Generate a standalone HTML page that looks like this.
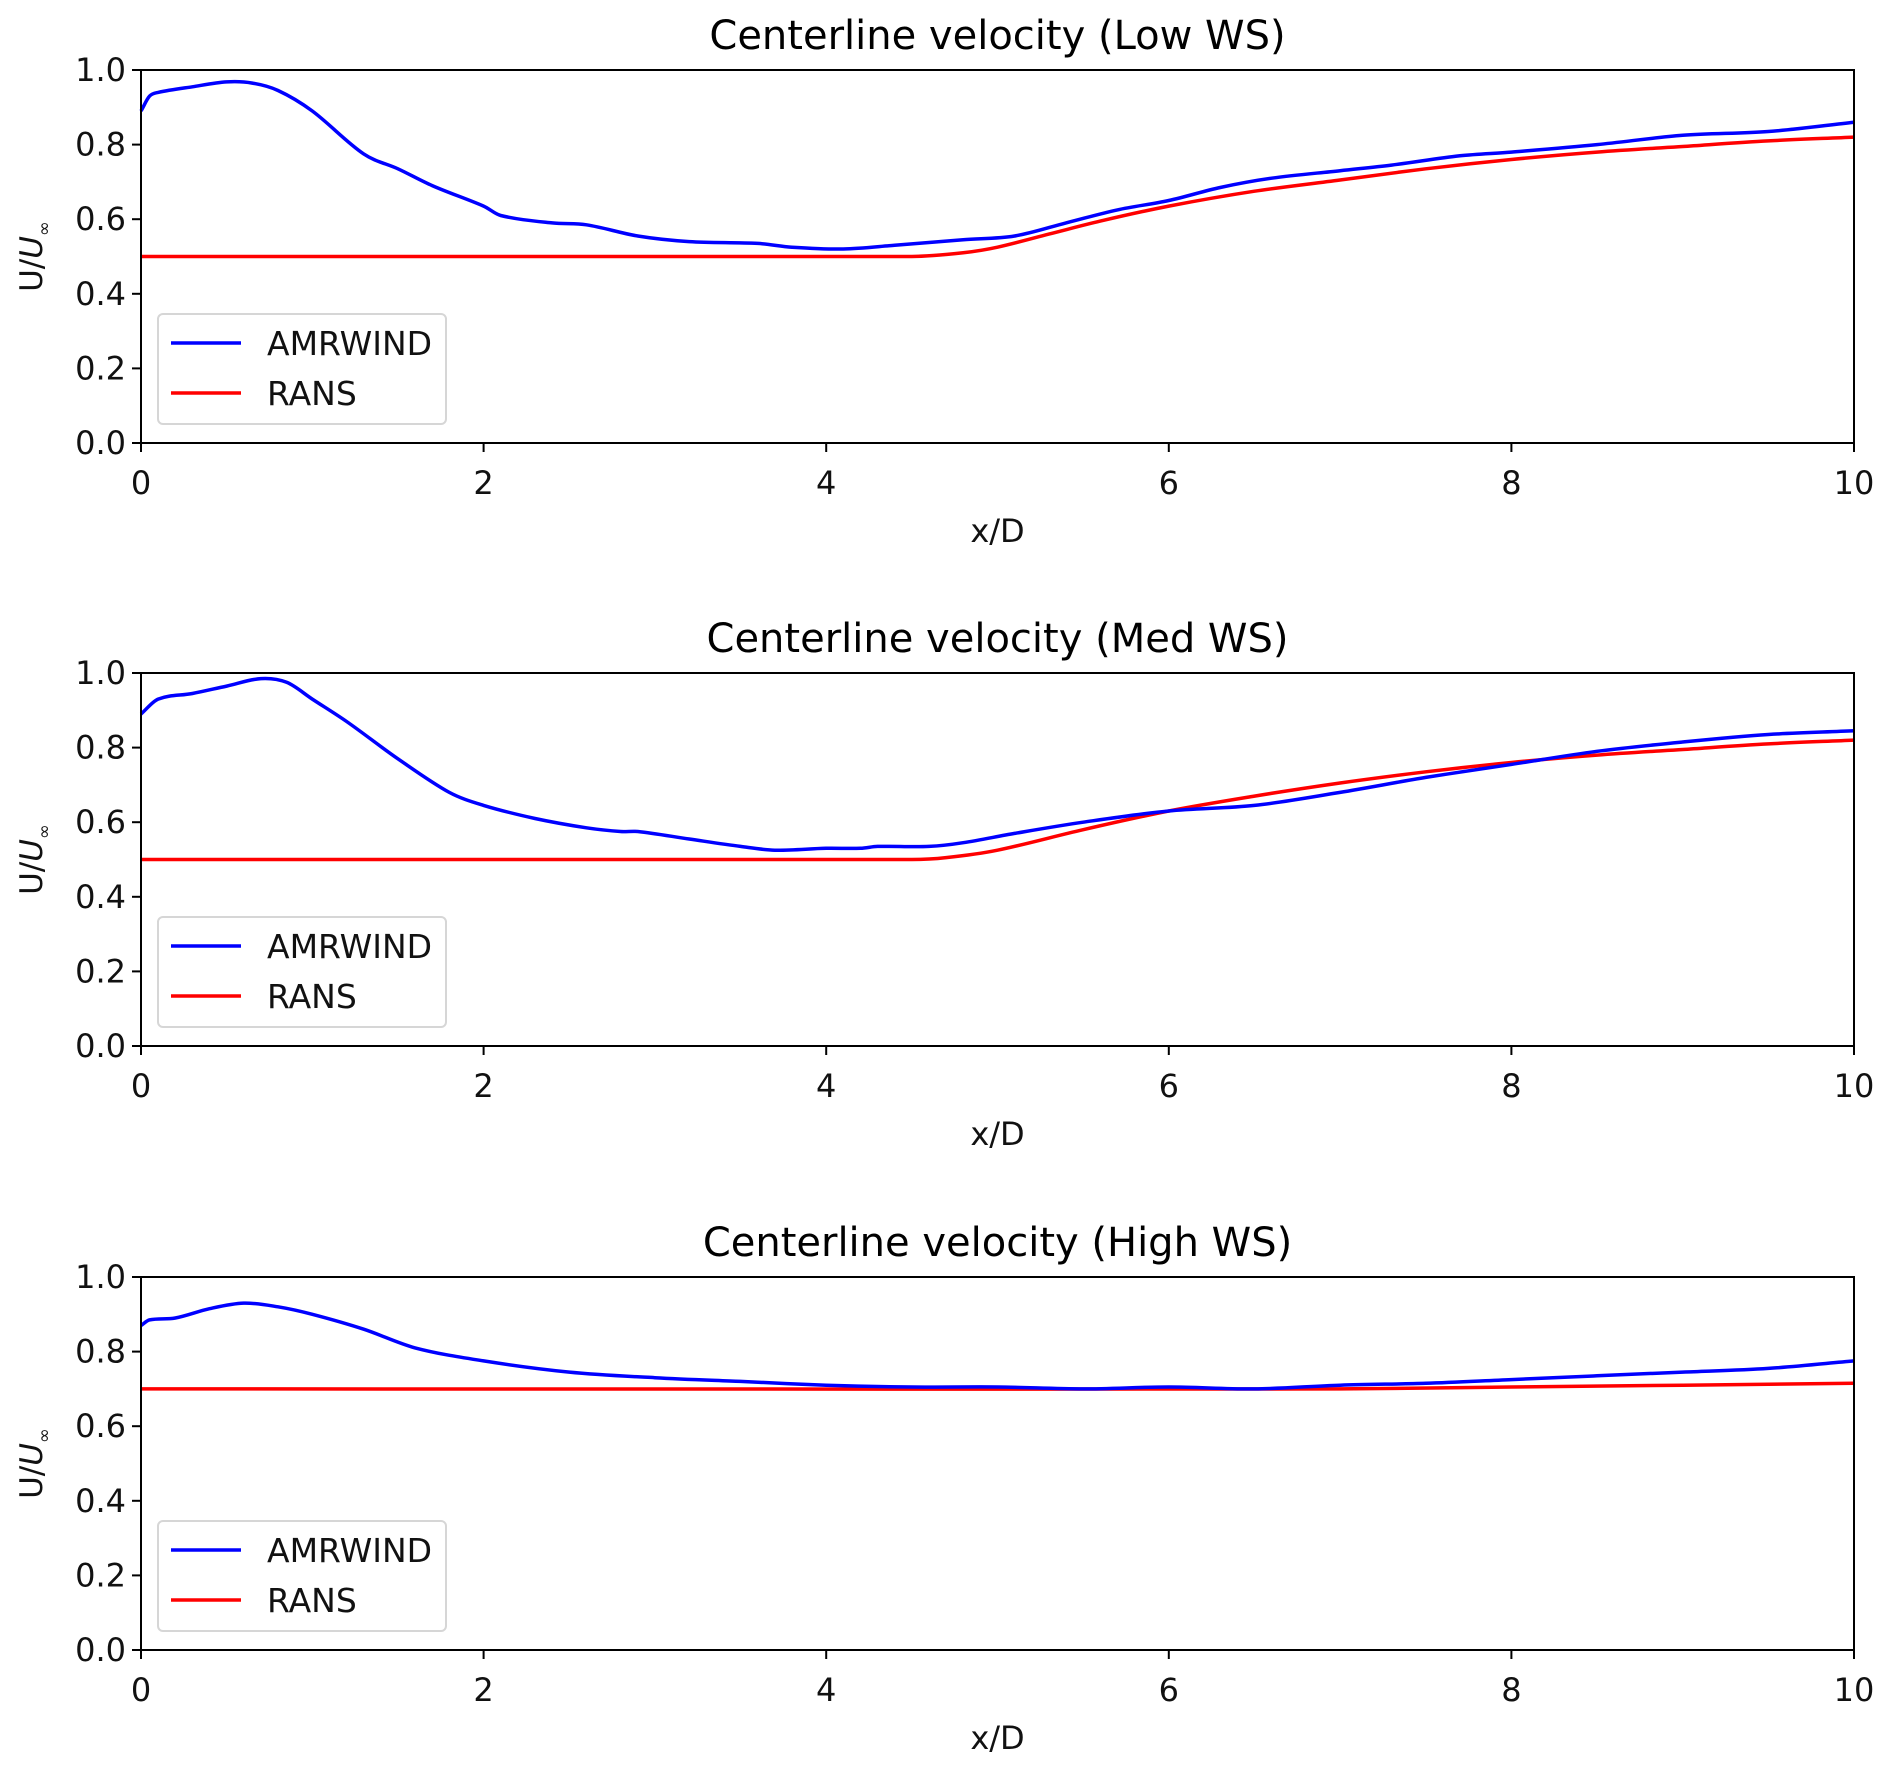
<!DOCTYPE html>
<html><head><meta charset="utf-8"><style>
html,body{margin:0;padding:0;background:#fff;}
svg{display:block;font-family:"DejaVu Sans","Liberation Sans",sans-serif;}
</style></head><body>
<svg id="fig" width="1892" height="1773" viewBox="0 0 1892 1773"></svg>
<script>
const xTicks=[0,2,4,6,8,10];
const yTicks=["0.0","0.2","0.4","0.6","0.8","1.0"];
const titles=["Centerline velocity (Low WS)","Centerline velocity (Med WS)","Centerline velocity (High WS)"];
const lowX=[0,0.05,0.1,0.3,0.5,0.65,0.8,1.0,1.3,1.5,1.7,2.0,2.1,2.4,2.6,2.9,3.2,3.6,3.8,4.1,4.4,4.8,5.1,5.4,5.7,6.0,6.3,6.6,7.0,7.3,7.7,8.0,8.5,9.0,9.5,10];
const lowAmr=[0.89,0.93,0.94,0.955,0.968,0.965,0.945,0.89,0.775,0.735,0.69,0.635,0.61,0.59,0.585,0.555,0.54,0.535,0.525,0.52,0.53,0.545,0.555,0.59,0.625,0.65,0.685,0.71,0.73,0.745,0.77,0.78,0.80,0.825,0.835,0.86];
const lowRansX=[0,4.5,4.8,5.0,5.3,5.6,6.0,6.5,7.0,7.5,8.0,8.5,9.0,9.5,10];
const lowRans=[0.5,0.5,0.51,0.525,0.56,0.595,0.635,0.675,0.705,0.735,0.76,0.78,0.795,0.81,0.82];
const medX=[0,0.1,0.3,0.5,0.7,0.85,1.0,1.2,1.5,1.8,2.0,2.3,2.6,2.8,2.9,3.2,3.5,3.7,4.0,4.2,4.3,4.6,4.8,5.1,5.5,6.0,6.5,7.0,7.5,8.0,8.5,9.0,9.5,10];
const medAmr=[0.89,0.93,0.945,0.965,0.985,0.975,0.93,0.87,0.77,0.68,0.645,0.61,0.585,0.575,0.575,0.555,0.535,0.525,0.53,0.53,0.535,0.535,0.545,0.57,0.6,0.63,0.645,0.68,0.72,0.755,0.79,0.815,0.835,0.845];
const medRansX=[0,4.5,4.7,5.0,5.5,6.0,6.5,7.0,7.5,8.0,8.5,9.0,9.5,10];
const medRans=[0.5,0.5,0.505,0.525,0.58,0.63,0.67,0.705,0.735,0.76,0.78,0.795,0.81,0.82];
const highX=[0,0.05,0.2,0.4,0.6,0.8,1.0,1.3,1.6,2.0,2.5,3.0,3.5,4.0,4.5,5.0,5.5,6.0,6.5,7.0,7.5,8.0,8.5,9.0,9.5,10];
const highAmr=[0.87,0.885,0.89,0.915,0.93,0.92,0.9,0.86,0.81,0.775,0.745,0.73,0.72,0.71,0.705,0.705,0.7,0.705,0.7,0.71,0.715,0.725,0.735,0.745,0.755,0.775];
const highRansX=[0,7,8,9,10];
const highRans=[0.70,0.70,0.705,0.71,0.715];

const panels=[
 {top:70,amrX:lowX,amr:lowAmr,ransX:lowRansX,rans:lowRans,key:'low'},
 {top:673,amrX:medX,amr:medAmr,ransX:medRansX,rans:medRans,key:'med'},
 {top:1277,amrX:highX,amr:highAmr,ransX:highRansX,rans:highRans,key:'high'}
];
const L=141,R=1854,H=373;
const NS='http://www.w3.org/2000/svg';
const svg=document.getElementById('fig');
function mk(tag,attrs,parent){const e=document.createElementNS(NS,tag);for(const k in attrs)e.setAttribute(k,attrs[k]);(parent||svg).appendChild(e);return e;}
function smoothPath(pts){
 const n=pts.length,m=[];
 for(let i=0;i<n;i++){
  const a=pts[Math.max(0,i-1)],b=pts[Math.min(n-1,i+1)];
  m.push((b[1]-a[1])/(b[0]-a[0]));
 }
 let d='M'+pts[0][0].toFixed(1)+','+pts[0][1].toFixed(1);
 for(let i=0;i<n-1;i++){
  const p1=pts[i],p2=pts[i+1],dx=p2[0]-p1[0];
  const c1x=p1[0]+dx/3,c1y=p1[1]+m[i]*dx/3;
  const c2x=p2[0]-dx/3,c2y=p2[1]-m[i+1]*dx/3;
  d+=' C'+c1x.toFixed(1)+','+c1y.toFixed(1)+' '+c2x.toFixed(1)+','+c2y.toFixed(1)+' '+p2[0].toFixed(1)+','+p2[1].toFixed(1);
 }
 return d;
}
panels.forEach((p,pi)=>{
 const T=p.top,B=T+H;
 const sx=v=>L+(R-L)*v/10;
 const sy=v=>B-H*v;
 const g=mk('g',{});
 
 
 const t=mk('text',{x:(L+R)/2,y:T-21,'text-anchor':'middle','font-size':'40',fill:'#000'},g);
 t.textContent=titles[pi];
 
 
 xTicks.forEach(v=>{
  const tk=mk('line',{x1:sx(v),x2:sx(v),y1:B,y2:B+9,stroke:'#000','stroke-width':2},g);
  
  
  const tl=mk('text',{x:sx(v),y:B+51,'text-anchor':'middle','font-size':'32',fill:'#111'},g);
  tl.textContent=v;
  
  
 });
 yTicks.forEach(s=>{
  const v=parseFloat(s);
  const tk=mk('line',{x1:L-9,x2:L,y1:sy(v),y2:sy(v),stroke:'#000','stroke-width':2},g);
  
  
  const tl=mk('text',{x:L-15,y:sy(v)+11,'text-anchor':'end','font-size':'32',fill:'#111'},g);
  tl.textContent=s;
  
  
 });
 const xl=mk('text',{x:(L+R)/2,y:B+99,'text-anchor':'middle','font-size':'32',fill:'#111'},g);
 xl.textContent='x/D';
 
 
 const yl=mk('text',{x:0,y:0,'text-anchor':'middle','font-size':'31',fill:'#111',transform:'translate(42,'+(T+H/2)+') rotate(-90)'},g);
 yl.innerHTML='U/<tspan font-style="italic">U</tspan><tspan font-size="18" dy="8">∞</tspan>';
 
 
 const rp=mk('path',{d:smoothPath(p.ransX.map((x,i)=>[sx(x),sy(p.rans[i])])),fill:'none',stroke:'#ff0000','stroke-width':3.5},g);
 
 
 const ap=mk('path',{d:smoothPath(p.amrX.map((x,i)=>[sx(x),sy(p.amr[i])])),fill:'none',stroke:'#0000ff','stroke-width':3.5},g);
 
 
 const fr=mk('rect',{x:L,y:T,width:R-L,height:H,fill:'none',stroke:'#000','stroke-width':2},g);
 
 
 const lg=mk('g',{},g);
 
 
 mk('rect',{x:158,y:T+244,width:288,height:110,rx:5,fill:'#fff','fill-opacity':0.8,stroke:'#d6d6d6','stroke-width':2},lg);
 mk('line',{x1:171,x2:241,y1:T+273,y2:T+273,stroke:'#0000ff','stroke-width':3.5},lg);
 mk('line',{x1:171,x2:241,y1:T+323,y2:T+323,stroke:'#ff0000','stroke-width':3.5},lg);
 const e1=mk('text',{x:267,y:T+285,'font-size':'33',fill:'#111'},lg);
 e1.textContent='AMRWIND';
 
 
 const e2=mk('text',{x:267,y:T+335,'font-size':'33',fill:'#111'},lg);
 e2.textContent='RANS';
 
 
});
</script>
</body></html>
